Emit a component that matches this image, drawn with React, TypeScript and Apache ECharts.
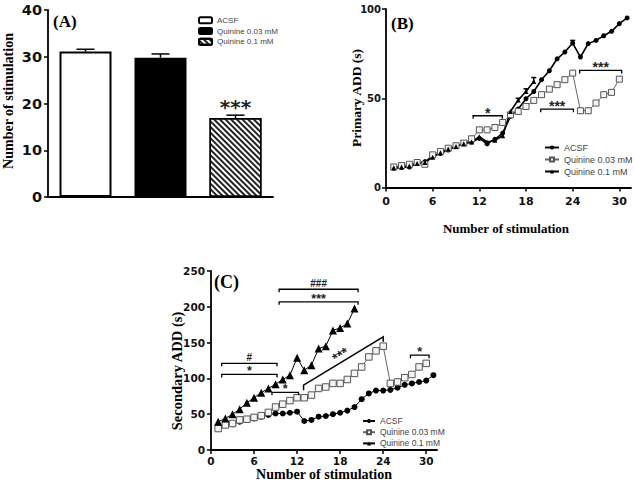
import React, { useEffect, useRef } from 'react';
import * as echarts from 'echarts';

// ---------- data ----------
const groupsA = ['ACSF', 'Quinine 0.03 mM', 'Quinine 0.1 mM'];
const meanA = [31.1, 29.8, 16.9];
const semA = [0.5, 0.8, 0.6];
const sigA = ['', '', '***'];

const stim = [1, 2, 3, 4, 5, 6, 7, 8, 9, 10, 11, 12, 13, 14, 15, 16, 17, 18, 19, 20, 21, 22, 23, 24, 25, 26, 27, 28, 29, 30, 31];
const xTicks = [0, 6, 12, 18, 24, 30];
const yTicksB = [0, 50, 100];
const yTicksC = [0, 50, 100, 150, 200, 250];

const acsfB = [10.8, 11.2, 11.5, 13.5, 14.5, 17.5, 19, 21, 23, 25, 25.5, 27.5, 24.5, 27, 30.5, 39.8, 44, 49.7, 53.8, 60.4, 65.4, 72.1, 75.9, 80.9, 73.1, 80.6, 82.4, 85, 87.5, 91.8, 95];
const acsfBErr = [0, 0, 0, 0, 0, 0, 0, 0, 0, 0, 0, 0, 0, 0, 0, 0, 0, 0, 0, 0, 0, 0, 0, 1.5, 0, 0, 0, 0, 0, 0, 0];
const q003B = [11.5, 12.3, 13, 14, 13, 18.3, 20.2, 22, 23.4, 24.9, 27.3, 32.3, 32.3, 33.6, 36.4, 40.7, 42.6, 45.4, 48.8, 52, 55.1, 57.6, 60.4, 64.1, 43, 43, 47.3, 52, 53.3, 60.7];
const q01B = [11, 11.5, 12, 13.5, 14, 17, 19.5, 21.5, 23, 24.5, 25.5, 28.5, 25.5, 26.5, 29, 42.6, 49, 53.8, 59.4];
const q01BErr = [0, 0, 0, 0, 0, 0, 0, 0, 0, 0, 0, 0, 0, 0, 0, 0, 1, 1.5, 2.2];

const acsfC = [32, 35, 36, 39.5, 42, 44, 46.5, 49, 51, 51, 52, 53.5, 40.5, 42, 46.5, 47.5, 50, 52, 55, 60, 71, 79, 83, 83, 84, 87, 91, 93, 95, 97, 104.5];
const q003C = [30, 35, 37, 42, 43, 45.5, 48, 52.5, 60, 64, 69, 73, 73, 76.7, 86, 88, 93, 93, 98.5, 107, 116, 130, 138.5, 145, 93, 95, 101, 105.5, 116, 121];
const q01C = [39.5, 44, 50, 57, 66, 73, 80, 86, 92, 98.5, 104.5, 128.7, 111.5, 118.5, 141.7, 145, 167, 170.5, 176.6, 197.5];

// significance brackets: [x start, x end, y, label]
const bracketsB: [number, number, number, string][] = [
  [11.2, 14.95, 40.2, '*'],
  [19.9, 24.1, 43.9, '***'],
  [24.9, 30.3, 65.6, '***'],
];
const bracketsC: [number, number, number, string][] = [
  [9.5, 20.5, 224.5, '###'],
  [9.5, 20.5, 207, '***'],
  [1.5, 9.2, 121, '#'],
  [1.5, 9.2, 105.5, '*'],
  [8.5, 12.2, 80.5, '*'],
  [27.8, 30.4, 132.5, '*'],
];
// slanted bracket: [x1, y1, x2, y2, label]
const slantC: [number, number, number, number, string][] = [[12.9, 90.6, 24, 158, '***']];

// ---------- helpers ----------
const SERIF = "'Liberation Serif', 'Times New Roman', serif";
const SANS = "'Liberation Sans', Arial, sans-serif";
const TICKFONT = "'DejaVu Sans', sans-serif";

const pairs = (vals: number[]) => vals.map((v, i) => [stim[i], v]);
const triples = (vals: number[], errs: number[]) => vals.map((v, i) => [stim[i], v, errs[i]]);

function errRender(capW: number, labels?: string[]) {
  return (params: any, api: any) => {
    const x = api.value(0);
    const m = api.value(1);
    const e = api.value(2);
    const children: any[] = [];
    const p1 = api.coord([x, m + e]);
    if (e) {
      const p0 = api.coord([x, m]);
      children.push(
        { type: 'line', shape: { x1: p0[0], y1: p0[1], x2: p1[0], y2: p1[1] }, style: { stroke: '#000', lineWidth: 1.5 } },
        { type: 'line', shape: { x1: p1[0] - capW / 2, y1: p1[1], x2: p1[0] + capW / 2, y2: p1[1] }, style: { stroke: '#000', lineWidth: 1.5 } }
      );
    }
    const lab = labels ? labels[params.dataIndex] : '';
    if (lab) {
      children.push({
        type: 'text', x: p1[0], y: p1[1] - 8,
        style: { text: lab, fill: '#222', font: `bold 20px ${TICKFONT}`, lineHeight: 12, align: 'center', verticalAlign: 'middle' },
      });
    }
    return { type: 'group', children };
  };
}

function bracketRender(list: [number, number, number, string][], font: (s: string) => string) {
  return (params: any, api: any) => {
    const item = list[params.dataIndex];
    const p1 = api.coord([item[0], item[2]]);
    const p2 = api.coord([item[1], item[2]]);
    const lab = item[3];
    const off = lab.includes('#') ? 6 : 3;
    return {
      type: 'group',
      children: [
        { type: 'polyline', shape: { points: [[p1[0], p1[1] + 3], [p1[0], p1[1]], [p2[0], p2[1]], [p2[0], p2[1] + 3]] }, style: { stroke: '#000', lineWidth: 1.3, fill: null } },
        { type: 'text', x: (p1[0] + p2[0]) / 2, y: p1[1] - off, style: { text: lab, fill: '#222', font: font(lab), lineHeight: 7, align: 'center', verticalAlign: 'middle' } },
      ],
    };
  };
}

function slantRender(list: [number, number, number, number, string][]) {
  return (params: any, api: any) => {
    const it = list[params.dataIndex];
    const p1 = api.coord([it[0], it[1]]);
    const p2 = api.coord([it[2], it[3]]);
    const ang = Math.atan2(p1[1] - p2[1], p2[0] - p1[0]);
    const mx = (p1[0] + p2[0]) / 2 - 3;
    const my = (p1[1] + p2[1]) / 2 - 6;
    return {
      type: 'group',
      children: [
        { type: 'polyline', shape: { points: [[p1[0], p1[1] + 5], [p1[0], p1[1]], [p2[0], p2[1]], [p2[0], p2[1] + 5]] }, style: { stroke: '#000', lineWidth: 1.5, fill: null } },
        { type: 'text', x: mx, y: my, rotation: ang, style: { text: it[4], fill: '#222', font: `bold 14px ${SANS}`, align: 'center', verticalAlign: 'middle' } },
      ],
    };
  };
}

const axisLineStyle = { show: true, lineStyle: { color: '#000', width: 1.8 } };
const tickStyle = (len: number) => ({ show: true, length: len, lineStyle: { color: '#000', width: 1.5 } });

function xValueAxis(gridIndex: number, margin: number, size: number) {
  return {
    type: 'value', gridIndex, min: 0, max: 31.5,
    splitLine: { show: false },
    axisLine: axisLineStyle,
    axisTick: { ...tickStyle(4), customValues: xTicks },
    axisLabel: { customValues: xTicks, margin, color: '#111', fontWeight: 'bold', fontSize: size, fontFamily: TICKFONT },
  };
}
function yValueAxis(gridIndex: number, max: number, interval: number, ticks: number[], margin: number, size: number) {
  return {
    type: 'value', gridIndex, min: 0, max, interval,
    splitLine: { show: false },
    axisLine: axisLineStyle,
    axisTick: { ...tickStyle(4), customValues: ticks },
    axisLabel: { customValues: ticks, margin, color: '#111', fontWeight: 'bold', fontSize: size, fontFamily: TICKFONT },
  };
}

const legendText = { fontSize: 9, color: '#444', fontFamily: SANS, lineHeight: 9 };

const option: any = {
  animation: false,
  backgroundColor: '#fff',
  grid: [
    { left: 48, top: 10, width: 225, height: 187 },
    { left: 386, top: 9, width: 245, height: 178.5 },
    { left: 211, top: 271, width: 226, height: 179 },
  ],
  xAxis: [
    {
      type: 'category', gridIndex: 0, data: groupsA,
      axisLine: axisLineStyle, axisTick: { show: false }, axisLabel: { show: false },
    },
    xValueAxis(1, 8, 11),
    xValueAxis(2, 5, 10.5),
  ],
  yAxis: [
    {
      type: 'value', gridIndex: 0, min: 0, max: 40, interval: 10,
      splitLine: { show: false }, axisLine: axisLineStyle, axisTick: tickStyle(4),
      axisLabel: { margin: 6, color: '#111', fontWeight: 'bold', fontSize: 14.5, fontFamily: TICKFONT },
    },
    yValueAxis(1, 100, 50, yTicksB, 5, 10),
    yValueAxis(2, 250, 50, yTicksC, 6, 10.5),
  ],
  legend: [
    {
      data: groupsA, left: 193, top: 11, orient: 'vertical', itemWidth: 13, itemHeight: 6, itemGap: 2.3,
      textStyle: { ...legendText, fontSize: 8, lineHeight: 8.5 }, selectedMode: false,
    },
    {
      data: ['ACSF ', 'Quinine 0.03 mM ', 'Quinine 0.1 mM '], left: 539, top: 138, orient: 'vertical',
      itemWidth: 14, itemHeight: 5, itemGap: 3, textStyle: legendText, selectedMode: false,
      formatter: (n: string) => n.trim(),
    },
    {
      data: ['ACSF  ', 'Quinine 0.03 mM  ', 'Quinine 0.1 mM  '], left: 357, top: 411.5, orient: 'vertical',
      itemWidth: 12, itemHeight: 5, itemGap: 2.2, textStyle: { ...legendText, fontSize: 8.5 }, selectedMode: false,
      formatter: (n: string) => n.trim(),
    },
  ],
  graphic: [
    { type: 'text', x: 53, y: 21, style: { text: '(A)', font: `bold 17px ${SERIF}`, fill: '#000', verticalAlign: 'middle' } },
    { type: 'text', x: 391, y: 23, style: { text: '(B)', font: `bold 17px ${SERIF}`, fill: '#000', verticalAlign: 'middle' } },
    { type: 'text', x: 214, y: 282, style: { text: '(C)', font: `bold 18px ${SERIF}`, fill: '#000', verticalAlign: 'middle' } },
    { type: 'text', x: 8, y: 101, rotation: Math.PI / 2, style: { text: 'Number of stimulation', font: `bold 14px ${SERIF}`, fill: '#000', align: 'center', verticalAlign: 'middle' } },
    { type: 'text', x: 356, y: 98, rotation: Math.PI / 2, style: { text: 'Primary ADD (s)', font: `bold 13.5px ${SERIF}`, fill: '#000', align: 'center', verticalAlign: 'middle' } },
    { type: 'text', x: 506, y: 228, style: { text: 'Number of stimulation', font: `bold 13px ${SERIF}`, fill: '#000', align: 'center', verticalAlign: 'middle' } },
    { type: 'text', x: 177, y: 371, rotation: Math.PI / 2, style: { text: 'Secondary ADD (s)', font: `bold 14.5px ${SERIF}`, fill: '#000', align: 'center', verticalAlign: 'middle' } },
    { type: 'text', x: 324, y: 474, style: { text: 'Number of stimulation', font: `bold 14px ${SERIF}`, fill: '#000', align: 'center', verticalAlign: 'middle' } },
  ],
  series: [
    // ---- panel A ----
    {
      type: 'bar', name: groupsA[0], xAxisIndex: 0, yAxisIndex: 0, stack: 'a', barWidth: 52,
      data: [meanA[0], '-', '-'],
      itemStyle: { color: '#fff', borderColor: '#000', borderWidth: 2 },
    },
    {
      type: 'bar', name: groupsA[1], xAxisIndex: 0, yAxisIndex: 0, stack: 'a', barWidth: 52,
      data: ['-', meanA[1], '-'],
      itemStyle: { color: '#000', borderColor: '#000', borderWidth: 1.5 },
    },
    {
      type: 'bar', name: groupsA[2], xAxisIndex: 0, yAxisIndex: 0, stack: 'a', barWidth: 52,
      data: ['-', '-', meanA[2]],
      itemStyle: {
        color: '#fff', borderColor: '#000', borderWidth: 1.5,
        decal: { symbol: 'rect', symbolSize: 1, dashArrayX: [1, 0], dashArrayY: [1.3, 2], rotation: Math.PI / 4, color: '#222', backgroundColor: '#fff' },
      },
    },
    {
      type: 'custom', xAxisIndex: 0, yAxisIndex: 0, z: 5,
      data: meanA.map((m, i) => [i, m, semA[i]]),
      renderItem: errRender(18, sigA),
    },
    // ---- panel B ----
    {
      type: 'line', name: 'ACSF ', xAxisIndex: 1, yAxisIndex: 1, data: pairs(acsfB),
      symbol: 'circle', symbolSize: 5, itemStyle: { color: '#000' }, lineStyle: { color: '#000', width: 1.6 },
    },
    {
      type: 'line', name: 'Quinine 0.03 mM ', xAxisIndex: 1, yAxisIndex: 1, data: pairs(q003B),
      symbol: 'rect', symbolSize: 6, itemStyle: { color: '#f4f4f4', borderColor: '#555', borderWidth: 1 }, lineStyle: { color: '#666', width: 1 },
    },
    {
      type: 'line', name: 'Quinine 0.1 mM ', xAxisIndex: 1, yAxisIndex: 1, data: pairs(q01B),
      symbol: 'triangle', symbolSize: 5, itemStyle: { color: '#000' }, lineStyle: { color: '#000', width: 1.6 },
    },
    {
      type: 'custom', xAxisIndex: 1, yAxisIndex: 1, z: 5, data: triples(acsfB, acsfBErr), renderItem: errRender(5),
    },
    {
      type: 'custom', xAxisIndex: 1, yAxisIndex: 1, z: 5, data: triples(q01B, q01BErr), renderItem: errRender(5),
    },
    {
      type: 'custom', xAxisIndex: 1, yAxisIndex: 1, z: 6, clip: false,
      data: bracketsB.map((b) => [b[0], b[1], b[2]]),
      encode: { x: [0, 1], y: 2 },
      renderItem: bracketRender(bracketsB, () => `bold 14px ${SANS}`),
    },
    // ---- panel C ----
    {
      type: 'line', name: 'ACSF  ', xAxisIndex: 2, yAxisIndex: 2, data: pairs(acsfC),
      symbol: 'circle', symbolSize: 6, itemStyle: { color: '#000' }, lineStyle: { color: '#000', width: 1 },
    },
    {
      type: 'line', name: 'Quinine 0.03 mM  ', xAxisIndex: 2, yAxisIndex: 2, data: pairs(q003C),
      symbol: 'rect', symbolSize: 6.5, itemStyle: { color: '#f4f4f4', borderColor: '#555', borderWidth: 1 }, lineStyle: { color: '#666', width: 1 },
    },
    {
      type: 'line', name: 'Quinine 0.1 mM  ', xAxisIndex: 2, yAxisIndex: 2, data: pairs(q01C),
      symbol: 'triangle', symbolSize: 8, itemStyle: { color: '#000' }, lineStyle: { color: '#000', width: 1 },
    },
    {
      type: 'custom', xAxisIndex: 2, yAxisIndex: 2, z: 6, clip: false,
      data: bracketsC.map((b) => [b[0], b[1], b[2]]),
      encode: { x: [0, 1], y: 2 },
      renderItem: bracketRender(bracketsC, (s) => (s.includes('#') ? `bold 10px ${SANS}` : `bold 12.5px ${SANS}`)),
    },
    {
      type: 'custom', xAxisIndex: 2, yAxisIndex: 2, z: 6, clip: false,
      data: slantC.map((s) => [s[0], s[1], s[2], s[3]]),
      encode: { x: [0, 2], y: [1, 3] },
      renderItem: slantRender(slantC),
    },
  ],
};

export default function App() {
  const ref = useRef<HTMLDivElement>(null);
  useEffect(() => {
    const chart = echarts.init(ref.current!, null, { renderer: 'svg' });
    chart.setOption(option);
    return () => chart.dispose();
  }, []);
  return (
    <div
      ref={ref}
      style={{ position: 'fixed', left: 0, top: 0, width: 634, height: 486, background: '#fff' }}
    />
  );
}
